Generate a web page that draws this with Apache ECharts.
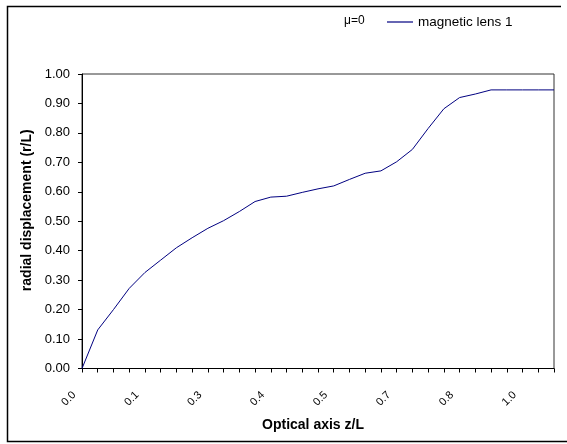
<!DOCTYPE html>
<html>
<head>
<meta charset="utf-8">
<script src="https://cdn.jsdelivr.net/npm/echarts@6/dist/echarts.min.js"></script>
<style>
  html, body { margin: 0; padding: 0; background: #fff; }
  #root { width: 567px; height: 444px; }
</style>
</head>
<body>
<div id="root"></div>
<script>
const main = document.getElementById('root')

// z/L positions along the optical axis (one per category)
const zValues = [
  '0.000', '0.034', '0.068', '0.102', '0.136', '0.170', '0.204', '0.238',
  '0.272', '0.306', '0.340', '0.374', '0.408', '0.442', '0.476', '0.510',
  '0.544', '0.578', '0.612', '0.646', '0.680', '0.714', '0.748', '0.782',
  '0.816', '0.850', '0.884', '0.918', '0.952', '0.986', '1.020'
]

// radial displacement r/L, magnetic lens 1 (mu = 0)
const lens1 = [
  0.000, 0.131, 0.200, 0.272, 0.326, 0.368, 0.410, 0.444,
  0.476, 0.502, 0.533, 0.567, 0.582, 0.585, 0.598, 0.610,
  0.620, 0.642, 0.663, 0.671, 0.702, 0.744, 0.815, 0.882,
  0.920, 0.932, 0.946, 0.946, 0.946, 0.946, 0.946
]

const fontFamily = '"Liberation Sans", Arial, sans-serif'

const myChart = echarts.init(main, null, { renderer: 'canvas' })

const option = {
  animation: false,
  backgroundColor: '#fff',
  textStyle: { fontFamily: fontFamily, color: '#000' },
  title: {
    text: 'μ=0',
    left: 344,
    top: 15,
    padding: 0,
    textStyle: { fontSize: 12, fontWeight: 'normal', color: '#000', fontFamily: fontFamily }
  },
  legend: {
    left: 382,
    top: 10,
    icon: 'rect',
    itemWidth: 26,
    itemHeight: 1.2,
    itemGap: 10,
    textStyle: { fontSize: 13.5, color: '#000', fontFamily: fontFamily },
    data: ['magnetic lens 1']
  },
  grid: {
    left: 82,
    right: 13,
    top: 74,
    bottom: 75.5,
    show: true,
    borderColor: '#333',
    borderWidth: 1
  },
  xAxis: {
    type: 'category',
    data: zValues,
    boundaryGap: false,
    name: 'Optical axis z/L',
    nameLocation: 'middle',
    nameGap: 50,
    nameTextStyle: {
      fontSize: 14, fontWeight: 'bold', color: '#000', fontFamily: fontFamily,
      padding: [0, 10, 0, 0]
    },
    axisLine: { lineStyle: { color: '#000', width: 1 } },
    axisTick: { show: true, interval: 0, length: 4, lineStyle: { color: '#000' } },
    axisLabel: {
      interval: 3,
      rotate: 45,
      margin: 17,
      fontSize: 11,
      color: '#000',
      padding: [0, 11, 0, 0],
      formatter: v => Number(v).toFixed(1)
    },
    splitLine: { show: false }
  },
  yAxis: {
    type: 'value',
    min: 0,
    max: 1,
    interval: 0.1,
    name: 'radial displacement (r/L)',
    nameLocation: 'middle',
    nameGap: 40,
    nameTextStyle: {
      fontSize: 14, fontWeight: 'bold', color: '#000', fontFamily: fontFamily,
      padding: [0, 0, 0, 22]
    },
    axisLine: { show: true, lineStyle: { color: '#000', width: 1 } },
    axisTick: { show: true, length: 4, lineStyle: { color: '#000' } },
    axisLabel: {
      fontSize: 13,
      color: '#000',
      margin: 12,
      formatter: v => v.toFixed(2)
    },
    splitLine: { show: false }
  },
  series: [{
    name: 'magnetic lens 1',
    type: 'line',
    data: lens1,
    symbol: 'none',
    lineStyle: { color: '#000080', width: 1 },
    itemStyle: { color: '#000080' }
  }],
  graphic: [{
    type: 'polyline',
    silent: true,
    shape: { points: [[561, 6.5], [7.5, 6.5], [7.5, 441.5], [567, 441.5]] },
    style: { fill: null, stroke: '#000', lineWidth: 1.5 }
  }]
}

myChart.setOption(option)
</script>
</body>
</html>
